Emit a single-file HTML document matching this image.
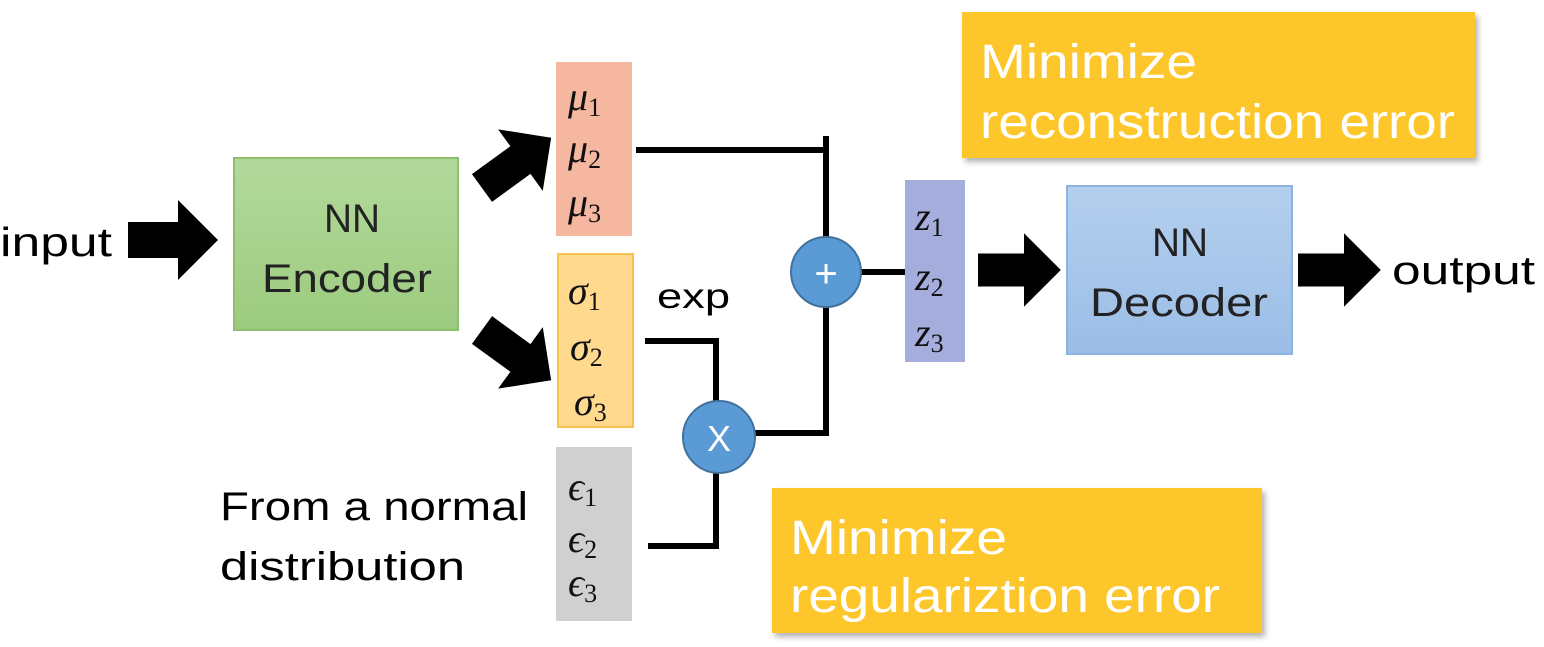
<!DOCTYPE html>
<html><head><meta charset="utf-8"><style>
html,body{margin:0;padding:0;background:#fff;}
svg{display:block;}
text{font-family:"Liberation Sans",sans-serif;}
.m{font-family:"Liberation Serif",serif;font-style:italic;font-size:40px;fill:#111;}
.s{font-size:26px;font-style:normal;}
</style></head><body>
<svg width="1544" height="647" viewBox="0 0 1544 647" xmlns="http://www.w3.org/2000/svg">
<defs>
<linearGradient id="gg" x1="0" y1="0" x2="0" y2="1"><stop offset="0" stop-color="#b3d99c"/><stop offset="1" stop-color="#9ccb7f"/></linearGradient>
<linearGradient id="bg" x1="0" y1="0" x2="0" y2="1"><stop offset="0" stop-color="#b4cfee"/><stop offset="1" stop-color="#9bbde6"/></linearGradient>
<filter id="sh" x="-5%" y="-5%" width="115%" height="120%"><feDropShadow dx="3" dy="4" stdDeviation="3" flood-color="#000" flood-opacity="0.3"/></filter>
<g id="arr"><polygon points="0,-18 50,-18 50,-40 90,0 50,40 50,18 0,18" fill="#000"/></g>
</defs>

<text x="0" y="256" font-size="41" textLength="112" lengthAdjust="spacingAndGlyphs" fill="#000">input</text>
<use href="#arr" transform="translate(128,240)"/>

<rect x="234" y="158" width="224" height="172" fill="url(#gg)" stroke="#8cc06c" stroke-width="2"/>
<text x="324" y="232" font-size="40" textLength="56" lengthAdjust="spacingAndGlyphs" fill="#222">NN</text>
<text x="262" y="292" font-size="40" textLength="170" lengthAdjust="spacingAndGlyphs" fill="#222">Encoder</text>

<use href="#arr" transform="translate(482,188) rotate(-36) scale(0.95)"/>
<use href="#arr" transform="translate(482,330) rotate(36) scale(0.95)"/>

<rect x="556" y="62" width="76" height="174" fill="#f5b7a0"/>
<text x="568" y="110" class="m">μ<tspan class="s" dy="6">1</tspan></text>
<text x="568" y="162" class="m">μ<tspan class="s" dy="6">2</tspan></text>
<text x="568" y="216" class="m">μ<tspan class="s" dy="6">3</tspan></text>

<rect x="558" y="254" width="75" height="173" fill="#ffd98e" stroke="#f7c24c" stroke-width="2"/>
<text x="568" y="304" class="m">σ<tspan class="s" dy="6">1</tspan></text>
<text x="570" y="360" class="m">σ<tspan class="s" dy="6">2</tspan></text>
<text x="574" y="415" class="m">σ<tspan class="s" dy="6">3</tspan></text>

<rect x="556" y="447" width="76" height="174" fill="#d0d0d0"/>
<text x="568" y="500" class="m">ϵ<tspan class="s" dy="6">1</tspan></text>
<text x="568" y="552" class="m">ϵ<tspan class="s" dy="6">2</tspan></text>
<text x="568" y="596" class="m">ϵ<tspan class="s" dy="6">3</tspan></text>

<g stroke="#000" stroke-width="6" fill="none">
<polyline points="636,150 826,150 826,240"/>
<line x1="826" y1="136" x2="826" y2="150"/>
<polyline points="645,341 716,341 716,402"/>
<polyline points="648,546 716,546 716,472"/>
<polyline points="754,433 826,433 826,306"/>
<line x1="860" y1="272" x2="905" y2="272"/>
</g>
<text x="657" y="308" font-size="35" textLength="73" lengthAdjust="spacingAndGlyphs" fill="#000">exp</text>

<circle cx="826" cy="272" r="35" fill="#5b9bd5" stroke="#41719c" stroke-width="2"/>
<text x="826" y="287" font-size="40" fill="#fff" text-anchor="middle">+</text>
<circle cx="719" cy="437" r="36" fill="#5b9bd5" stroke="#41719c" stroke-width="2"/>
<text x="719" y="451" font-size="36" fill="#fff" text-anchor="middle">X</text>

<text x="220" y="520" font-size="40" textLength="308" lengthAdjust="spacingAndGlyphs" fill="#000">From a normal</text>
<text x="220" y="580" font-size="40" textLength="245" lengthAdjust="spacingAndGlyphs" fill="#000">distribution</text>

<rect x="905" y="180" width="60" height="182" fill="#a5addd"/>
<text x="915" y="230" class="m">z<tspan class="s" dy="6">1</tspan></text>
<text x="915" y="290" class="m">z<tspan class="s" dy="6">2</tspan></text>
<text x="915" y="346" class="m">z<tspan class="s" dy="6">3</tspan></text>

<use href="#arr" transform="translate(978,270) scale(0.92)"/>
<rect x="1067" y="186" width="225" height="168" fill="url(#bg)" stroke="#8db3e2" stroke-width="2"/>
<text x="1152" y="256" font-size="40" textLength="56" lengthAdjust="spacingAndGlyphs" fill="#222">NN</text>
<text x="1090" y="316" font-size="40" textLength="178" lengthAdjust="spacingAndGlyphs" fill="#222">Decoder</text>
<use href="#arr" transform="translate(1298,270) scale(0.92)"/>
<text x="1392" y="284" font-size="40" textLength="143" lengthAdjust="spacingAndGlyphs" fill="#000">output</text>

<g filter="url(#sh)">
<rect x="962" y="12" width="513" height="146" fill="#fdc62a"/>
</g>
<text x="980" y="78" font-size="48" textLength="217" lengthAdjust="spacingAndGlyphs" fill="#fff">Minimize</text>
<text x="980" y="138" font-size="48" textLength="475" lengthAdjust="spacingAndGlyphs" fill="#fff">reconstruction error</text>

<g filter="url(#sh)">
<rect x="772" y="488" width="490" height="145" fill="#fdc62a"/>
</g>
<text x="790" y="554" font-size="48" textLength="217" lengthAdjust="spacingAndGlyphs" fill="#fff">Minimize</text>
<text x="790" y="612" font-size="48" textLength="430" lengthAdjust="spacingAndGlyphs" fill="#fff">regulariztion error</text>
</svg>
</body></html>
